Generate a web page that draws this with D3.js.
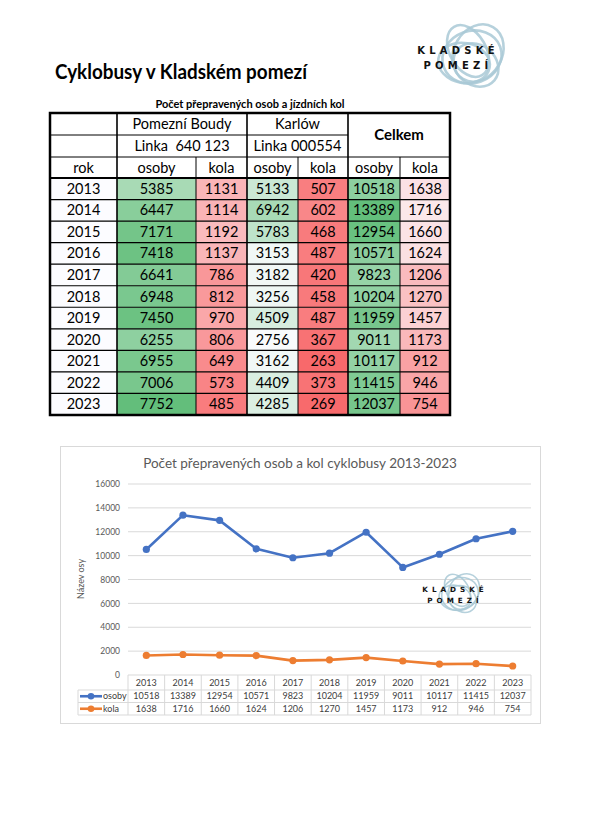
<!DOCTYPE html>
<html><head><meta charset="utf-8">
<script src="https://cdn.jsdelivr.net/npm/d3@7"></script>
<style>body{margin:0;background:#fff}svg{display:block}text{white-space:pre}</style>
</head><body>
<svg id="c" width="600" height="818"></svg>
<script>
const years = [2013,2014,2015,2016,2017,2018,2019,2020,2021,2022,2023];
const pbOsoby = [5385,6447,7171,7418,6641,6948,7450,6255,6955,7006,7752];
const pbKola  = [1131,1114,1192,1137,786,812,970,806,649,573,485];
const kaOsoby = [5133,6942,5783,3153,3182,3256,4509,2756,3162,4409,4285];
const kaKola  = [507,602,468,487,420,458,487,367,263,373,269];
const ceOsoby = [10518,13389,12954,10571,9823,10204,11959,9011,10117,11415,12037];
const ceKola  = [1638,1716,1660,1624,1206,1270,1457,1173,912,946,754];
const yTicks = [0,2000,4000,6000,8000,10000,12000,14000,16000];
const seriesNames = ["osoby","kola"];

const F = "Lato, 'Open Sans', sans-serif";
const svg = d3.select("#c");

svg.append("text").attr("x",55).attr("y",79).attr("font-family",F).attr("font-weight","bold")
  .attr("font-size",20).attr("textLength",252).attr("lengthAdjust","spacingAndGlyphs")
  .attr("fill","#000").text("Cyklobusy v Kladském pomezí");

function logo(g, cx, cy, s, fs, ls, tx) {
  const col = "#a9c9d6";
  const ells = [[0,0,30,26,-20],[6,-4,24,30,30],[-8,6,26,20,10],[4,8,20,24,-50],[-4,-6,28,18,60]];
  ells.forEach(e=>{
    g.append("ellipse").attr("cx",cx+e[0]*s).attr("cy",cy+e[1]*s).attr("rx",e[2]*s).attr("ry",e[3]*s)
     .attr("transform",`rotate(${e[4]},${cx+e[0]*s},${cy+e[1]*s})`)
     .attr("fill","none").attr("stroke",col).attr("stroke-width",2.6*s).attr("opacity",0.85);
  });
  g.append("text").attr("x",tx).attr("y",cy-3*s).attr("text-anchor","middle").attr("font-family","'DejaVu Sans', sans-serif")
    .attr("font-weight","bold").attr("font-size",fs).attr("letter-spacing",ls).attr("fill","#111").text("KLADSKÉ");
  g.append("text").attr("x",tx).attr("y",cy+fs*1.45-3*s).attr("text-anchor","middle").attr("font-family","'DejaVu Sans', sans-serif")
    .attr("font-weight","bold").attr("font-size",fs).attr("letter-spacing",ls).attr("fill","#111").text("POMEZÍ");
}
logo(svg.append("g"), 472, 57, 1, 10, 4.2, 458);

svg.append("text").attr("x",250).attr("y",108).attr("text-anchor","middle").attr("font-family",F)
  .attr("font-weight","bold").attr("font-size",11).text("Počet přepravených osob a jízdních kol");

const colX = [50,117,196,247,298,348,400,450];
const hdrY = [113,135,157,178];
const rowY = d3.scaleBand().domain(years).range([178,415]);

const greenPB = d3.scaleLinear().domain([2756,7752]).range(["#f4faf5","#63be7b"]);
const greenKA = d3.scaleLinear().domain([2600,10500]).range(["#fcfcff","#63be7b"]);
const greenCe = d3.scaleLinear().domain([2756,13389]).range(["#fcfcff","#63be7b"]);
const redAll  = d3.scaleLinear().domain([263,1950]).range(["#f8696b","#fcfcff"]);

const cols = [
  {vals:pbOsoby, sc:greenPB},{vals:pbKola, sc:redAll},
  {vals:kaOsoby, sc:greenKA},{vals:kaKola, sc:redAll},
  {vals:ceOsoby, sc:greenCe},{vals:ceKola, sc:redAll}];

const tb = svg.append("g");
years.forEach((y,i)=>{
  const yy = rowY(y), h = rowY.bandwidth();
  tb.append("rect").attr("x",colX[0]).attr("y",yy).attr("width",colX[1]-colX[0]).attr("height",h).attr("fill","#fcfcff");
  tb.append("text").attr("x",(colX[0]+colX[1])/2).attr("y",yy+h/2+5).attr("text-anchor","middle")
    .attr("font-family",F).attr("font-size",14.5).text(y);
  cols.forEach((c,j)=>{
    tb.append("rect").attr("x",colX[j+1]).attr("y",yy).attr("width",colX[j+2]-colX[j+1]).attr("height",h)
      .attr("fill",c.sc(c.vals[i]));
    tb.append("text").attr("x",(colX[j+1]+colX[j+2])/2).attr("y",yy+h/2+5).attr("text-anchor","middle")
      .attr("font-family",F).attr("font-size",14.5).text(c.vals[i]);
  });
});
function ht(x,y,t,b){tb.append("text").attr("x",x).attr("y",y).attr("text-anchor","middle").attr("font-family",F)
  .attr("font-size",b?15:14.5).attr("font-weight",b?"bold":"normal").text(t);}
ht((colX[1]+colX[3])/2,129,"Pomezní Boudy");
ht((colX[3]+colX[5])/2,129,"Karlów");
ht((colX[1]+colX[3])/2,151,"Linka  640 123");
ht((colX[3]+colX[5])/2,151,"Linka 000554");
ht((colX[5]+colX[7])/2,140,"Celkem",true);
ht((colX[0]+colX[1])/2,173,"rok");
["osoby","kola","osoby","kola","osoby","kola"].forEach((t,j)=>ht((colX[j+1]+colX[j+2])/2,173,t));

const L = (x1,y1,x2,y2,w,c)=>tb.append("line").attr("x1",x1).attr("y1",y1).attr("x2",x2).attr("y2",y2)
  .attr("stroke",c||"#000").attr("stroke-width",w);
L(colX[0],hdrY[1],colX[5],hdrY[1],1);
L(colX[0],hdrY[2],colX[7],hdrY[2],1);
L(colX[0],hdrY[3],colX[7],hdrY[3],2);
years.forEach((y,i)=>{ if(i>0) L(colX[0],rowY(y),colX[7],rowY(y),1.2); });
[1,3,5].forEach(k=>L(colX[k],hdrY[0],colX[k],415,1.6));
[2,4,6].forEach(k=>L(colX[k],hdrY[2],colX[k],415,1));
tb.append("rect").attr("x",colX[0]).attr("y",hdrY[0]).attr("width",colX[7]-colX[0]).attr("height",415-hdrY[0])
  .attr("fill","none").attr("stroke","#000").attr("stroke-width",2.5);

const ch = svg.append("g");
ch.append("rect").attr("x",60.5).attr("y",446.5).attr("width",480).attr("height",277)
  .attr("fill","#fff").attr("stroke","#d9d9d9").attr("stroke-width",1);
ch.append("text").attr("x",300).attr("y",468).attr("text-anchor","middle").attr("font-family",F)
  .attr("font-size",13.5).attr("fill","#595959").text("Počet přepravených osob a kol cyklobusy 2013-2023");

const x = d3.scaleBand().domain(years).range([128,531]);
const y = d3.scaleLinear().domain([0,16000]).range([675,484]);

ch.selectAll("line.g").data(yTicks.filter(d=>d>0)).join("line").attr("class","g")
  .attr("x1",128).attr("x2",531).attr("y1",d=>y(d)).attr("y2",d=>y(d)).attr("stroke","#d9d9d9").attr("stroke-width",1);
const ya = d3.axisLeft(y).tickValues(yTicks).tickSize(0).tickPadding(8).tickFormat(d3.format("d"));
const yg = ch.append("g").attr("transform","translate(128,0)").call(ya);
yg.select(".domain").remove();
yg.selectAll("text").attr("font-family",F).attr("font-size",8.5).attr("fill","#595959");

ch.append("text").attr("transform","translate(84,579) rotate(-90)").attr("text-anchor","middle")
  .attr("font-family",F).attr("font-size",9).attr("fill","#595959").text("Název osy");

logo(ch.append("g"), 460, 594, 0.62, 7.2, 4, 455);

const cx = d=>x(d)+x.bandwidth()/2;
const series = [{name:seriesNames[0],vals:ceOsoby,col:"#4472c4"},{name:seriesNames[1],vals:ceKola,col:"#ed7d31"}];
series.forEach(s=>{
  ch.append("path").datum(s.vals).attr("fill","none").attr("stroke",s.col).attr("stroke-width",2.6)
    .attr("stroke-linejoin","round")
    .attr("d",d3.line().x((d,i)=>cx(years[i])).y(d=>y(d)));
  ch.selectAll(null).data(s.vals).join("circle").attr("cx",(d,i)=>cx(years[i])).attr("cy",d=>y(d))
    .attr("r",3.6).attr("fill",s.col);
});

const dt = ch.append("g");
const rows = [675,690,702.5,715];
const gl = (x1,y1,x2,y2)=>dt.append("line").attr("x1",x1).attr("y1",y1).attr("x2",x2).attr("y2",y2).attr("stroke","#d9d9d9").attr("stroke-width",1);
gl(128,rows[0],531,rows[0]);
[1,2,3].forEach(k=>gl(78,rows[k],531,rows[k]));
gl(78,rows[1],78,rows[3]);
years.forEach(yr=>gl(x(yr),rows[0],x(yr),rows[3]));
gl(531,rows[0],531,rows[3]);
years.forEach((yr,i)=>{
  const t=(v,r)=>dt.append("text").attr("x",cx(yr)).attr("y",(rows[r]+rows[r+1])/2+3.2).attr("text-anchor","middle")
    .attr("font-family",F).attr("font-size",9).attr("fill","#404040").text(v);
  t(yr,0); t(ceOsoby[i],1); t(ceKola[i],2);
});
series.forEach((s,k)=>{
  const my = (rows[k+1]+rows[k+2])/2;
  dt.append("line").attr("x1",80).attr("x2",102).attr("y1",my).attr("y2",my).attr("stroke",s.col).attr("stroke-width",2.6);
  dt.append("circle").attr("cx",91).attr("cy",my).attr("r",3.3).attr("fill",s.col);
  dt.append("text").attr("x",103).attr("y",my+3.2).attr("font-family",F).attr("font-size",9).attr("fill","#404040").text(s.name);
});
</script>
</body></html>
